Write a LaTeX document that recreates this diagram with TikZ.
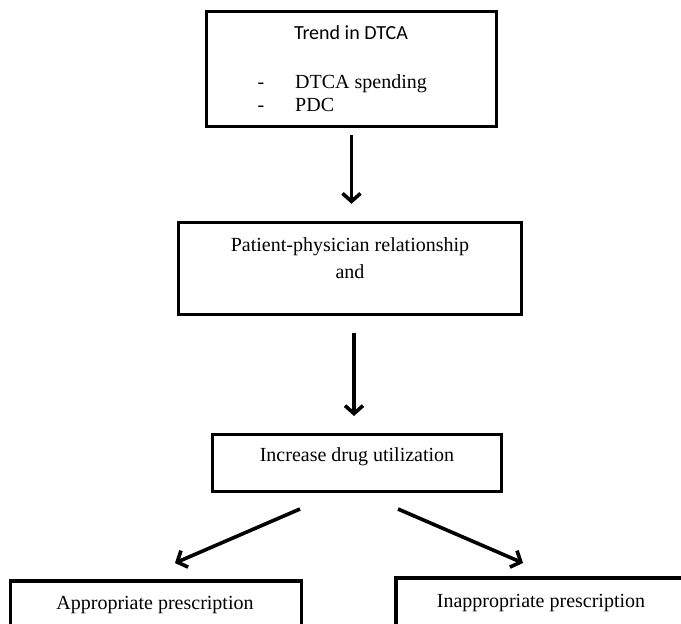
\documentclass[tikz,border=0pt]{standalone}
\usepackage{fontspec}
\setmainfont{Liberation Serif}
\newfontfamily\calib{Carlito}
\usetikzlibrary{arrows.meta}
\begin{document}
\begin{tikzpicture}[x=1pt,y=-1pt,
  box/.style={draw=black,line width=3.4pt,minimum width=#1,inner sep=0pt},
  txt/.style={inner sep=0pt,anchor=base,font=\fontsize{20}{24}\selectfont},
  arr/.style={line width=3.6pt,-{Straight Barb[length=8pt,width=18pt]}}]
\clip (0,0) rectangle (681,624);
\useasboundingbox (0,0) rectangle (681,624);
% boxes
\node[box=290pt,minimum height=115pt] (b1) at (351.5,69) {};
\node[box=343pt,minimum height=92pt] (b2) at (350,268.5) {};
\node[box=289pt,minimum height=57pt] (b3) at (357,463) {};
\node[box=291pt,minimum height=50pt] (b4) at (156,606) {};
\node[box=292pt,minimum height=48pt] (b5) at (542,602) {};
% texts
\node[txt,font=\calib\fontsize{20}{24}\selectfont] (t1) at (351,39) {Trend in DTCA};
\node[txt] (d1) at (261,88) {-};
\node[txt,anchor=base west] (t1a) at (295,88) {DTCA spending};
\node[txt] (d2) at (261,111) {-};
\node[txt,anchor=base west] (t1b) at (295,111) {PDC};
\node[txt] (t2) at (350,251) {Patient-physician relationship};
\node[txt] (t2b) at (350,278) {and};
\node[txt] (t3) at (357,461) {Increase drug utilization};
\node[txt] (t4) at (155,609) {Appropriate prescription};
\node[txt] (t5) at (541,607) {Inappropriate prescription};
% connectors
\draw[arr,shorten <=7pt,shorten >=17pt] (b1.south) -- (b1.south |- b2.north);
\draw[arr,shorten <=17pt,shorten >=17pt] (b2.south -| 354,0) -- (354,433);
\coordinate (l0) at (300,509);
\coordinate (l1) at (175,563);
\coordinate (r0) at (398,509);
\coordinate (r1) at (523,563);
\draw[arr] (l0) -- (l1);
\draw[arr] (r0) -- (r1);
\end{tikzpicture}
\end{document}
